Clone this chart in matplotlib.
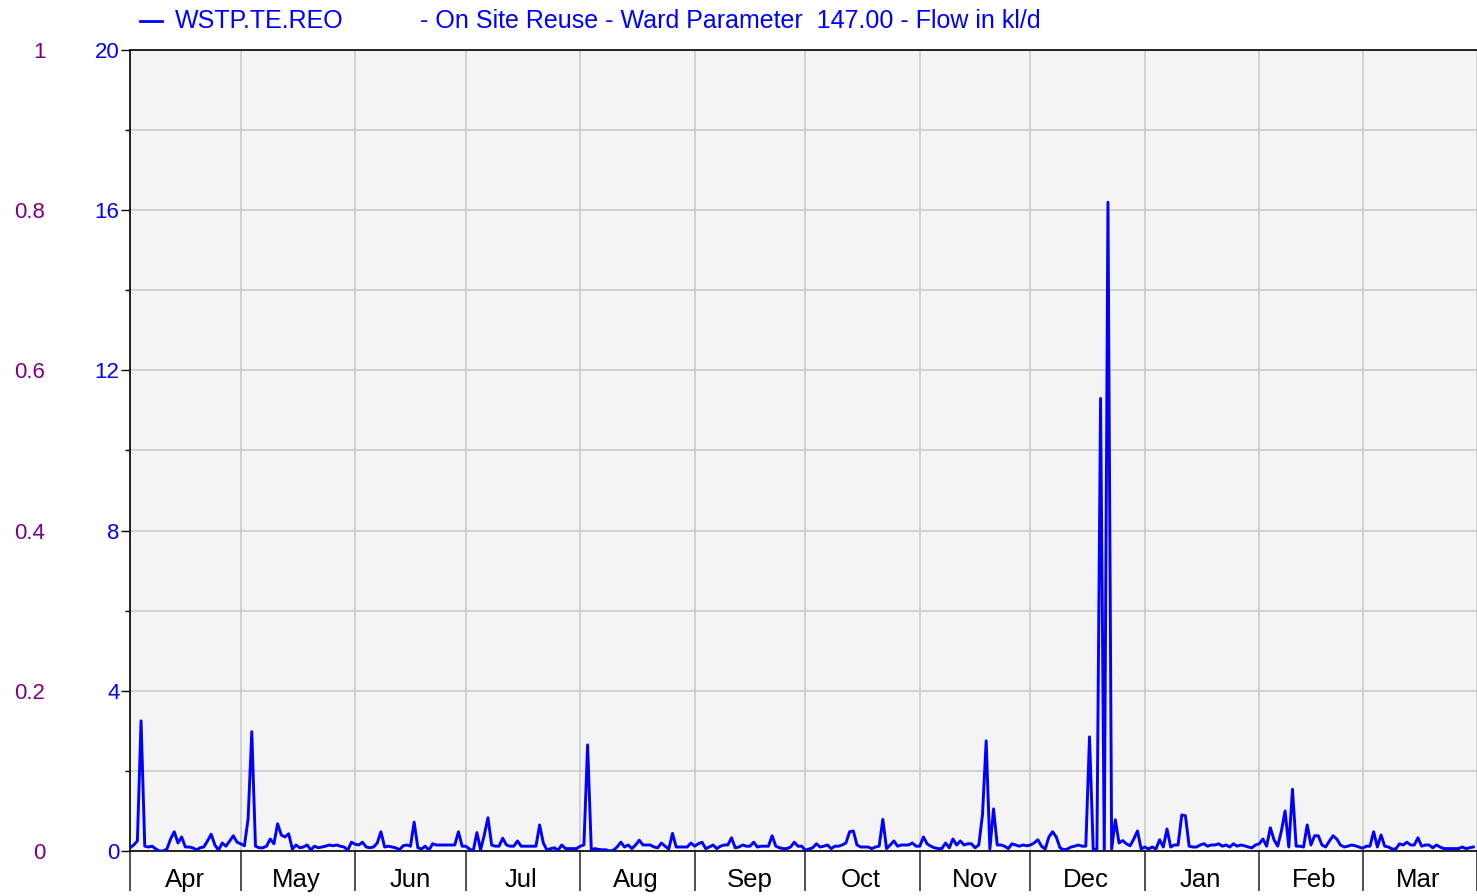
import matplotlib
matplotlib.use("Agg")
import matplotlib.pyplot as plt
import matplotlib.dates as mdates
from matplotlib.lines import Line2D
import numpy as np
import datetime as dt

plt.rcParams['font.family'] = ['Liberation Sans', 'DejaVu Sans']

# daily flow (kl/d), one list per month, Apr -> Mar
apr = [0.08, 0.15, 0.25, 3.25, 0.12, 0.1, 0.12, 0.05, 0.0, 0.0,
       0.05, 0.3, 0.48, 0.2, 0.35, 0.1, 0.1, 0.08, 0.03, 0.08,
       0.1, 0.25, 0.42, 0.15, 0.02, 0.2, 0.12, 0.25, 0.38, 0.22]
may = [0.18, 0.13, 0.8, 2.98, 0.12, 0.08, 0.08, 0.12, 0.3, 0.18,
       0.68, 0.4, 0.35, 0.43, 0.05, 0.15, 0.08, 0.1, 0.15, 0.03,
       0.12, 0.08, 0.1, 0.12, 0.15, 0.13, 0.15, 0.12, 0.1, 0.02, 0.22]
jun = [0.17, 0.15, 0.22, 0.1, 0.08, 0.1, 0.2, 0.48, 0.1, 0.12,
       0.1, 0.08, 0.03, 0.13, 0.15, 0.12, 0.72, 0.08, 0.05, 0.12,
       0.02, 0.18, 0.15, 0.15, 0.15, 0.15, 0.15, 0.15, 0.48, 0.12]
jul = [0.12, 0.05, 0.0, 0.46, 0.03, 0.4, 0.83, 0.15, 0.12, 0.12,
       0.32, 0.15, 0.12, 0.12, 0.25, 0.12, 0.12, 0.12, 0.12, 0.12,
       0.65, 0.2, 0.02, 0.06, 0.08, 0.02, 0.15, 0.06, 0.06, 0.06, 0.06]
aug = [0.12, 0.15, 2.65, 0.03, 0.06, 0.04, 0.03, 0.03, 0.0, 0.02,
       0.1, 0.22, 0.1, 0.15, 0.06, 0.15, 0.27, 0.15, 0.15, 0.15,
       0.1, 0.08, 0.2, 0.12, 0.05, 0.44, 0.1, 0.1, 0.1, 0.1, 0.2]
sep = [0.12, 0.18, 0.22, 0.06, 0.1, 0.15, 0.06, 0.12, 0.15, 0.15,
       0.33, 0.08, 0.1, 0.15, 0.12, 0.12, 0.22, 0.1, 0.12, 0.12,
       0.12, 0.38, 0.12, 0.08, 0.06, 0.06, 0.1, 0.22, 0.12, 0.12]
oct_ = [0.02, 0.05, 0.08, 0.18, 0.1, 0.12, 0.15, 0.06, 0.12, 0.12,
        0.15, 0.2, 0.48, 0.5, 0.15, 0.1, 0.1, 0.1, 0.06, 0.1,
        0.12, 0.79, 0.06, 0.15, 0.25, 0.12, 0.15, 0.15, 0.15, 0.2, 0.12]
nov = [0.12, 0.35, 0.18, 0.12, 0.08, 0.06, 0.06, 0.2, 0.08, 0.3,
       0.15, 0.25, 0.15, 0.18, 0.18, 0.08, 0.15, 0.9, 2.75, 0.05,
       1.05, 0.15, 0.15, 0.12, 0.06, 0.18, 0.15, 0.12, 0.15, 0.13]
dec = [0.15, 0.2, 0.28, 0.12, 0.05, 0.35, 0.48, 0.35, 0.08, 0.03,
       0.05, 0.1, 0.12, 0.15, 0.12, 0.12, 2.85, 0.05, 0.03, 11.3,
       0.0, 16.2, 0.05, 0.78, 0.2, 0.26, 0.18, 0.13, 0.3, 0.5, 0.05]
jan = [0.1, 0.05, 0.1, 0.05, 0.28, 0.1, 0.55, 0.1, 0.15, 0.15,
       0.9, 0.88, 0.12, 0.1, 0.1, 0.15, 0.18, 0.12, 0.15, 0.15,
       0.18, 0.12, 0.15, 0.1, 0.18, 0.12, 0.15, 0.13, 0.1, 0.08, 0.15]
feb = [0.18, 0.3, 0.12, 0.58, 0.28, 0.12, 0.5, 1.0, 0.1, 1.54,
       0.12, 0.12, 0.1, 0.65, 0.15, 0.38, 0.38, 0.15, 0.1, 0.25,
       0.38, 0.3, 0.15, 0.1, 0.12, 0.15, 0.13, 0.1]
mar = [0.07, 0.12, 0.12, 0.48, 0.1, 0.4, 0.12, 0.1, 0.05, 0.05,
       0.18, 0.15, 0.22, 0.15, 0.15, 0.33, 0.12, 0.15, 0.15, 0.08,
       0.15, 0.1, 0.06, 0.06, 0.06, 0.06, 0.06, 0.1, 0.06, 0.08, 0.1]

flow = apr + may + jun + jul + aug + sep + oct_ + nov + dec + jan + feb + mar
start = dt.date(2018, 4, 1)
days = [start + dt.timedelta(days=i) for i in range(len(flow))]

series_name = "WSTP.TE.REO"
series_desc = "- On Site Reuse - Ward Parameter  147.00 - Flow in kl/d"

blue = '#0000ff'
purple = '#800080'

fig = plt.figure(figsize=(14.77, 8.96), dpi=100)
W, H = 1477, 896
ax = fig.add_axes([130 / W, (H - 851) / H, (W - 130) / W, (851 - 50) / H])
ax.set_facecolor('#f4f4f4')

ax.plot(days, flow, color=blue, lw=2.1, zorder=3)

ax.set_xlim(dt.date(2018, 4, 1), dt.date(2019, 4, 1))
ax.set_ylim(0, 20)

# month boundaries as long ticks, names centred in each month
ax.xaxis.set_major_locator(mdates.MonthLocator())
ax.xaxis.set_major_formatter(plt.NullFormatter())
ax.xaxis.set_minor_locator(mdates.MonthLocator(bymonthday=16))
ax.xaxis.set_minor_formatter(mdates.DateFormatter('%b'))
ax.tick_params(axis='x', which='major', length=29, width=1.2, color='#333333')
ax.tick_params(axis='x', which='minor', length=0, pad=12, labelsize=18.5, labelcolor='black')

ax.set_yticks(np.arange(0, 21, 4))
ax.set_yticks(np.arange(2, 20, 4), minor=True)
ax.tick_params(axis='y', which='major', length=6.5, width=1, pad=1,
               labelsize=16, labelcolor=blue, color='black')
ax.tick_params(axis='y', which='minor', length=3.5, width=1, color='black')

ax.grid(True, which='major', axis='x', color='#c8c8c8', lw=1.1, zorder=0)
ax.grid(True, which='both', axis='y', color='#c8c8c8', lw=1.1, zorder=0)
ax.set_axisbelow(True)

for s in ['left', 'bottom', 'top']:
    ax.spines[s].set_color('black')
    ax.spines[s].set_linewidth(1.2)
ax.spines['right'].set_visible(False)

# secondary scale shown on the far left
ax2 = ax.twinx()
ax2.set_ylim(0, 1)
ax2.set_yticks([0, 0.2, 0.4, 0.6, 0.8, 1])
ax2.set_yticklabels(['0', '0.2', '0.4', '0.6', '0.8', '1'])
ax2.yaxis.tick_left()
ax2.tick_params(axis='y', length=0, pad=61, labelsize=16, labelcolor=purple)
for s in ax2.spines.values():
    s.set_visible(False)

# legend line at the top
fig.add_artist(Line2D([140 / W, 162 / W], [(H - 21) / H, (H - 21) / H], color=blue, lw=2))
fig.text(175 / W, (H - 21) / H, series_name, color=blue, fontsize=18, va='center', ha='left')
fig.text(420 / W, (H - 21) / H, series_desc, color=blue, fontsize=18, va='center', ha='left')

fig.savefig('out.png', dpi=100)
